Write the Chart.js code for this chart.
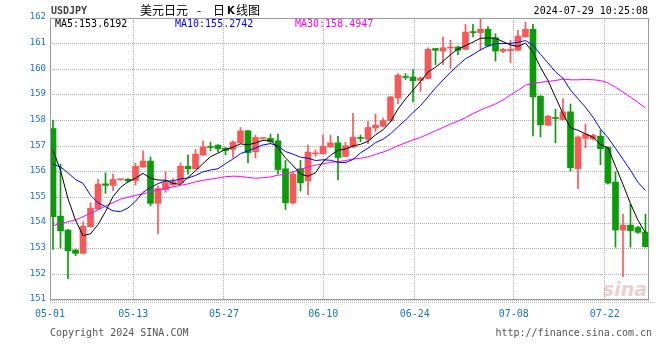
<!DOCTYPE html>
<html>
<head>
<meta charset="utf-8">
<script src="https://cdn.jsdelivr.net/npm/chart.js@4.4.1/dist/chart.umd.min.js"></script>
<style>
  html, body { margin: 0; padding: 0; background: #fff; }
</style>
</head>
<body>
<canvas id="kline" width="660" height="360"></canvas>
<script>
// daily candles, USDJPY, 05-01 .. 07-29
const opens = [
  157.69, 154.27, 153.73, 152.95, 152.82, 153.86, 154.56, 155.53, 155.47, 155.69,
  155.71, 155.66, 156.19, 156.42, 154.77, 155.30, 155.50, 155.57, 156.22, 156.12,
  156.66, 156.98, 157.04, 156.92, 156.87, 157.13, 157.60, 156.78, 157.30, 157.30,
  157.21, 156.12, 154.79, 156.12, 155.65, 156.70, 156.71, 156.97, 157.13, 156.60,
  156.96, 157.34, 157.27, 157.71, 157.78, 157.99, 158.88, 159.72, 159.70, 159.57,
  159.64, 160.81, 160.71, 160.83, 160.87, 160.78, 161.47, 161.43, 161.56, 161.23,
  160.70, 160.73, 160.74, 161.27, 161.56, 158.95, 157.82, 158.12, 158.04, 158.34,
  156.12, 157.31, 157.29, 157.39, 156.95, 155.60, 153.73, 153.92, 153.83, 153.65
];
const highs = [
  158.01, 156.30, 153.75, 152.97, 154.05, 154.79, 155.71, 155.96, 155.91, 155.72,
  155.74, 156.33, 156.82, 156.58, 155.45, 156.00, 155.74, 156.35, 156.66, 156.87,
  157.21, 157.16, 157.06, 156.95, 157.21, 157.73, 157.62, 157.43, 157.32, 157.47,
  157.47, 156.45, 156.00, 156.45, 157.05, 156.85, 157.43, 157.43, 157.38, 157.15,
  158.28, 157.43, 157.97, 158.25, 158.10, 158.95, 159.83, 159.83, 159.99, 159.70,
  160.84, 160.82, 161.26, 161.13, 160.90, 161.75, 161.75, 161.97, 161.67, 161.39,
  160.82, 161.13, 161.52, 161.84, 161.75, 158.97, 158.20, 158.44, 158.86, 158.64,
  157.40, 157.86, 157.47, 157.62, 156.97, 156.00, 154.35, 154.74, 153.87, 154.35
];
const lows = [
  152.97, 153.03, 151.83, 152.73, 152.80, 153.84, 154.54, 155.16, 155.26, 155.68,
  155.60, 155.48, 156.17, 154.67, 153.59, 155.20, 155.45, 155.52, 155.91, 156.10,
  156.64, 156.82, 156.79, 156.66, 156.56, 157.11, 156.35, 156.54, 157.28, 157.12,
  155.93, 154.53, 154.75, 155.25, 155.10, 156.60, 156.69, 156.95, 155.68, 156.58,
  156.94, 157.17, 157.10, 157.58, 157.76, 157.97, 158.66, 159.60, 158.73, 159.14,
  159.62, 160.18, 160.18, 160.03, 160.57, 160.76, 161.26, 160.74, 160.90, 160.32,
  160.65, 160.25, 160.72, 161.25, 157.40, 157.36, 157.80, 157.13, 158.02, 156.03,
  155.34, 156.94, 157.23, 156.28, 155.52, 153.06, 151.91, 153.06, 153.60, 153.06
];
const closes = [
  154.25, 153.70, 152.92, 152.82, 153.88, 154.58, 155.52, 155.47, 155.70, 155.70,
  155.64, 156.22, 156.42, 154.77, 155.35, 155.58, 155.61, 156.22, 156.12, 156.69,
  156.97, 156.95, 156.90, 156.83, 157.16, 157.60, 156.74, 157.34, 157.31, 157.17,
  156.09, 154.79, 155.91, 155.57, 156.77, 156.74, 157.00, 157.13, 156.56, 157.02,
  157.35, 157.30, 157.73, 157.82, 158.00, 158.92, 159.77, 159.68, 159.55, 159.66,
  160.78, 160.74, 160.84, 160.85, 160.74, 161.45, 161.43, 161.56, 160.91, 160.71,
  160.78, 160.78, 161.29, 161.56, 158.92, 157.84, 158.17, 158.08, 158.34, 156.16,
  157.36, 157.47, 157.42, 156.90, 155.56, 153.73, 153.92, 153.70, 153.64, 153.08
];

// moving averages as drawn
const ma5 = [
  156.84, 156.06, 154.95, 154.12, 153.51, 153.58, 153.94, 154.45, 155.03, 155.39,
  155.61, 155.75, 155.94, 155.75, 155.68, 155.67, 155.55, 155.51, 155.78, 156.04,
  156.32, 156.59, 156.73, 156.87, 156.96, 157.09, 157.05, 157.13, 157.23, 157.23,
  156.93, 156.54, 156.25, 155.91, 155.83, 155.96, 156.40, 156.64, 156.84, 156.89,
  157.01, 157.07, 157.19, 157.44, 157.64, 157.95, 158.45, 158.84, 159.18, 159.52,
  159.89, 160.08, 160.31, 160.57, 160.79, 160.92, 161.06, 161.21, 161.22, 161.21,
  161.08, 160.95, 160.89, 161.02, 160.67, 160.08, 159.56, 158.91, 158.27, 157.72,
  157.62, 157.48, 157.35, 157.06, 156.94, 156.22, 155.51, 154.76, 154.11, 153.62
];
const ma10 = [
  156.30, 156.19, 155.96, 155.70, 155.55, 155.09, 154.79, 154.64, 154.48, 154.45,
  154.59, 154.85, 155.20, 155.39, 155.54, 155.64, 155.65, 155.72, 155.76, 155.86,
  156.00, 156.07, 156.12, 156.32, 156.50, 156.71, 156.82, 156.93, 157.05, 157.10,
  157.01, 156.79, 156.69, 156.57, 156.53, 156.44, 156.47, 156.45, 156.37, 156.36,
  156.48, 156.74, 156.92, 157.14, 157.27, 157.48, 157.76, 158.02, 158.31, 158.58,
  158.92, 159.27, 159.58, 159.88, 160.15, 160.41, 160.57, 160.76, 160.90, 161.00,
  161.00, 161.01, 161.05, 161.12, 160.94, 160.58, 160.25, 159.90, 159.65, 159.19,
  158.85, 158.52, 158.13, 157.67, 157.33, 156.92, 156.49, 156.06, 155.59, 155.27
];
const ma30 = [
  153.90, 153.98, 154.05, 154.12, 154.25, 154.38, 154.52, 154.66, 154.80, 154.93,
  155.01, 155.08, 155.14, 155.22, 155.29, 155.36, 155.41, 155.47, 155.53, 155.61,
  155.67, 155.71, 155.76, 155.81, 155.83, 155.82, 155.78, 155.75, 155.77, 155.80,
  155.87, 155.90, 156.00, 156.09, 156.19, 156.26, 156.31, 156.37, 156.40, 156.44,
  156.50, 156.53, 156.58, 156.68, 156.77, 156.88, 157.02, 157.13, 157.25, 157.34,
  157.47, 157.60, 157.73, 157.86, 157.98, 158.11, 158.27, 158.41, 158.53, 158.65,
  158.80, 159.00, 159.18, 159.38, 159.45, 159.49, 159.53, 159.56, 159.62, 159.59,
  159.59, 159.60, 159.59, 159.56, 159.47, 159.30, 159.11, 158.91, 158.71, 158.49
];

const tickLabels = ['05-01', '05-13', '05-27', '06-10', '06-24', '07-08', '07-22'];
// where the date lines sit on the candle index axis
const tickPos = [-0.4, 10.71, 22.8, 36.04, 48.23, 61.43, 73.56];

const UP = '#fa5858';
const DOWN = '#0a9c0a';
const AXIS_BLUE = '#1a74c6';
const MONO = '"DejaVu Sans Mono", monospace';
const CJK = '"Noto Sans CJK SC", sans-serif';

const idx = closes.map((c, i) => i);
const candleColors = idx.map(i => closes[i] >= opens[i] ? UP : DOWN);

const sinaDecor = {
  id: 'sinaDecor',
  beforeDatasetsDraw(chart) {
    const ctx = chart.ctx;
    ctx.save();
    ctx.font = 'italic bold 19px "DejaVu Sans", sans-serif';
    ctx.fillStyle = 'rgba(220,170,170,0.55)';
    ctx.textAlign = 'right';
    ctx.textBaseline = 'alphabetic';
    ctx.fillText('sina', 647, 296);
    ctx.restore();
  },
  afterDraw(chart) {
    const { ctx, chartArea: a } = chart;
    ctx.save();
    // plot frame
    ctx.strokeStyle = '#999';
    ctx.lineWidth = 1;
    ctx.strokeRect(a.left + 0.5, a.top + 0.5, a.right - a.left - 1, a.bottom - a.top - 1);
    // dotted rule under the axis
    ctx.setLineDash([1, 1]);
    ctx.strokeStyle = '#bbb';
    ctx.beginPath();
    ctx.moveTo(a.left, 302.5);
    ctx.lineTo(655, 302.5);
    ctx.stroke();
    ctx.setLineDash([]);

    ctx.textBaseline = 'middle';
    ctx.textAlign = 'left';
    ctx.font = 'bold 10px ' + MONO;
    ctx.fillStyle = '#444';
    ctx.fillText('USDJPY', 51, 11);

    // title, spaced like the original
    ctx.fillStyle = '#000';
    ctx.font = '12px ' + CJK;
    ctx.fillText('美元日元', 140, 10);
    ctx.fillText('-', 197, 10);
    ctx.fillText('日', 213, 10);
    ctx.font = 'bold 10px "DejaVu Sans", sans-serif';
    ctx.textBaseline = 'alphabetic';
    ctx.fillText('K', 227, 14);
    ctx.textBaseline = 'middle';
    ctx.font = '12px ' + CJK;
    ctx.fillText('线图', 236, 10);

    ctx.font = '10px ' + MONO;
    ctx.textAlign = 'right';
    ctx.fillText('2024-07-29 10:25:08', 648, 11);

    ctx.textAlign = 'left';
    ctx.fillStyle = '#000';
    ctx.fillText('MA5:153.6192', 55, 24);
    ctx.fillStyle = '#0000ff';
    ctx.fillText('MA10:155.2742', 175, 24);
    ctx.fillStyle = '#ff00ff';
    ctx.fillText('MA30:158.4947', 295, 24);

    ctx.fillStyle = '#555';
    ctx.fillText('Copyright 2024 SINA.COM', 50, 333);
    ctx.textAlign = 'right';
    ctx.fillText('http://finance.sina.com.cn', 652, 333);
    ctx.restore();
  }
};

function maLine(label, values, color) {
  return {
    type: 'line',
    label: label,
    data: idx.map(i => ({ x: i, y: values[i] })),
    borderColor: color,
    borderWidth: 1,
    pointRadius: 0,
    tension: 0,
    fill: false,
    order: 0
  };
}

new Chart(document.getElementById('kline'), {
  type: 'bar',
  data: {
    datasets: [
      maLine('MA5', ma5, '#000000'),
      maLine('MA10', ma10, '#0000ff'),
      maLine('MA30', ma30, '#ff00ff'),
      {
        label: 'body',
        data: idx.map(i => ({ x: i, y: [Math.min(opens[i], closes[i]), Math.max(opens[i], closes[i])] })),
        backgroundColor: candleColors,
        barThickness: 6,
        minBarLength: 1,
        grouped: false,
        order: 1
      },
      {
        label: 'wick',
        data: idx.map(i => ({ x: i, y: [lows[i], highs[i]] })),
        backgroundColor: candleColors,
        barThickness: 1,
        grouped: false,
        order: 2
      }
    ]
  },
  options: {
    responsive: false,
    animation: false,
    devicePixelRatio: 1,
    layout: { padding: { left: 0, right: 11, top: 18, bottom: 0 } },
    plugins: { legend: { display: false }, tooltip: { enabled: false } },
    scales: {
      x: {
        type: 'linear',
        min: -0.4,
        max: 79.47,
        offset: false,
        grid: { offset: false, color: '#b0b0b0', drawTicks: false },
        border: { display: false, dash: [1, 1] },
        afterBuildTicks: s => { s.ticks = tickPos.map(v => ({ value: v })); },
        afterFit: s => { s.height = 60; },
        ticks: {
          autoSkip: false,
          maxRotation: 0,
          padding: 8,
          color: AXIS_BLUE,
          font: { family: MONO, size: 10 },
          callback: (v, i) => tickLabels[i]
        }
      },
      y: {
        min: 151,
        max: 162,
        beginAtZero: false,
        grid: { color: '#b0b0b0', drawTicks: false },
        border: { display: false, dash: [1, 1] },
        afterFit: s => { s.width = 50; },
        ticks: {
          stepSize: 1,
          padding: 4,
          labelOffset: -1,
          color: AXIS_BLUE,
          font: { family: MONO, size: 9 }
        }
      }
    }
  },
  plugins: [sinaDecor]
});
</script>
</body>
</html>
